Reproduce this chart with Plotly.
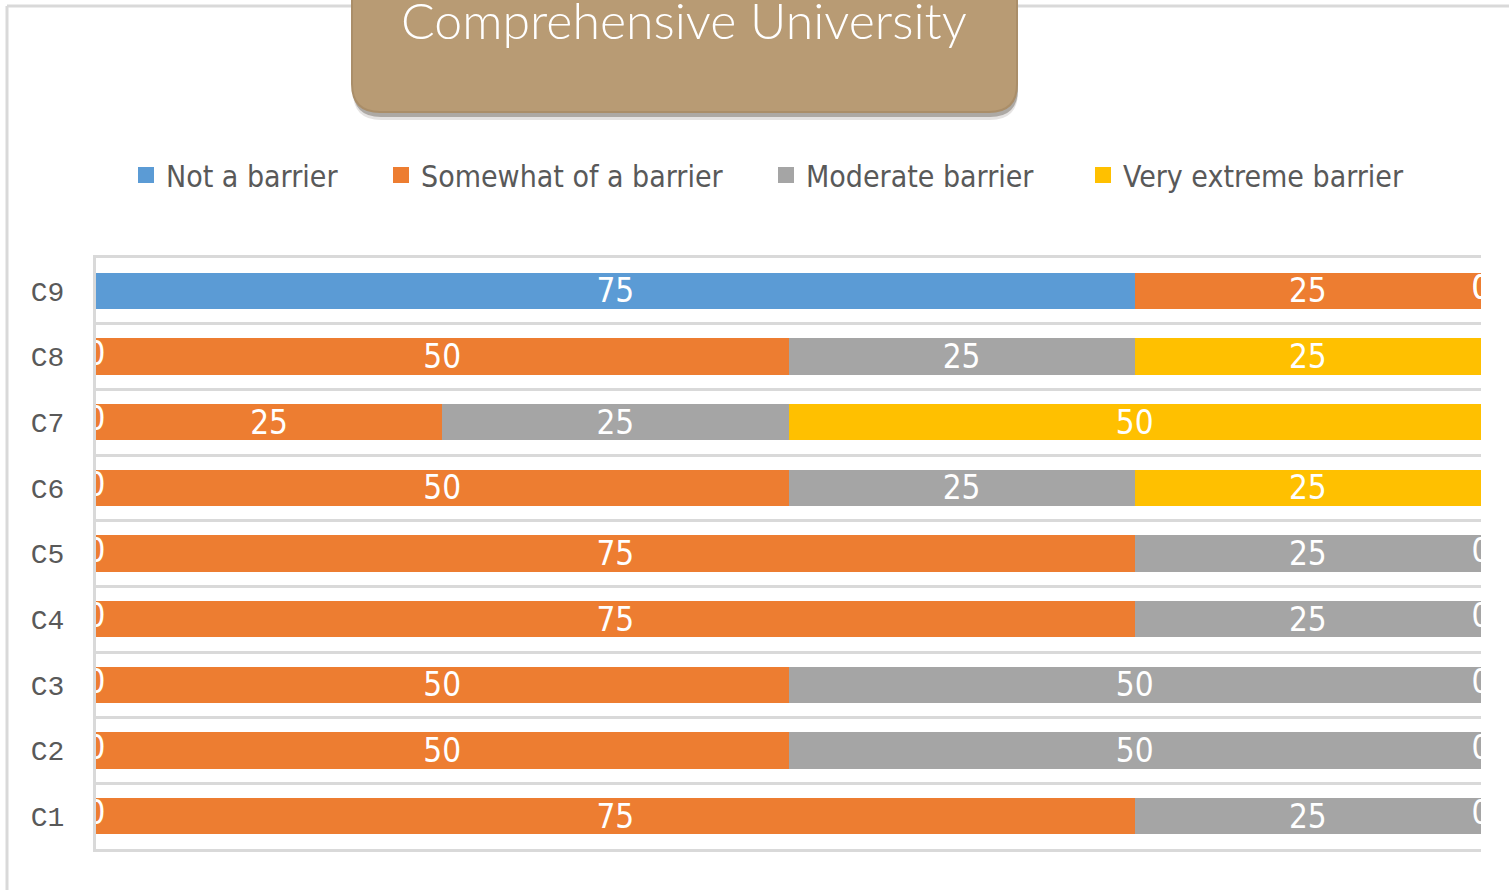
import plotly.graph_objects as go

categories = ["C1", "C2", "C3", "C4", "C5", "C6", "C7", "C8", "C9"]
series_names = ["Not a barrier", "Somewhat of a barrier", "Moderate barrier", "Very extreme barrier"]
not_a_barrier = [0, 0, 0, 0, 0, 0, 0, 0, 75]
somewhat_barrier = [75, 50, 50, 75, 75, 50, 25, 50, 25]
moderate_barrier = [25, 50, 50, 25, 25, 25, 25, 25, 0]
very_extreme_barrier = [0, 0, 0, 0, 0, 25, 50, 25, 0]
colors = ["#5B9BD5", "#ED7D31", "#A5A5A5", "#FFC000"]
title_text = "Comprehensive University"

W, H = 1509, 890
L, R, T, B = 96, 1481, 258, 849


def px(x):
    return (x - L) / (R - L)


def py(y):
    return (B - y) / (B - T)


NARROW = "Liberation Sans Narrow, DejaVu Sans Condensed, Arial Narrow, sans-serif"
legend_ids = ["legend", "legend2", "legend3", "legend4"]
legend_x = [126, 381, 766, 1083]

fig = go.Figure()
all_series = [not_a_barrier, somewhat_barrier, moderate_barrier, very_extreme_barrier]
for name, vals, col, lid in zip(series_names, all_series, colors, legend_ids):
    fig.add_trace(go.Bar(
        y=categories, x=vals, name=name, orientation="h",
        marker=dict(color=col, line=dict(width=0)),
        text=[str(v) if v else "" for v in vals],
        textposition="inside", insidetextanchor="middle", textangle=0,
        constraintext="none",
        insidetextfont=dict(color="white", size=33, family=NARROW),
        legendgroup=name, showlegend=False,
        hoverinfo="x+y+name",
    ))
    # legend entry with a larger square swatch
    fig.add_trace(go.Scatter(
        x=[None], y=[None], mode="markers", name=name, legend=lid,
        marker=dict(symbol="square", size=17, color=col),
        legendgroup=name, showlegend=True, hoverinfo="skip",
    ))

# zero-valued segment labels (clipped at plot edges as in the original)
zx, zy = [], []
for i, c in enumerate(categories):
    cum = 0
    for vals in all_series:
        v = vals[i]
        if v == 0:
            zx.append(cum)
            zy.append(c)
        cum += v
fig.add_trace(go.Scatter(
    x=zx, y=zy, mode="text", text=["0"] * len(zx), cliponaxis=True,
    textfont=dict(color="white", size=33, family=NARROW),
    showlegend=False, hoverinfo="skip",
))

# decorative title box
x0, x1, ytop, ybot, r = 352, 1017, -30, 112, 28


def box_path(dx=0, dy=0):
    a, b = x0 + dx, x1 + dx
    t, bt = ytop + dy, ybot + dy
    return (
        f"M {px(a)},{py(t)} L {px(b)},{py(t)} L {px(b)},{py(bt - r)} "
        f"Q {px(b)},{py(bt)} {px(b - r)},{py(bt)} L {px(a + r)},{py(bt)} "
        f"Q {px(a)},{py(bt)} {px(a)},{py(bt - r)} Z"
    )


shapes = [
    # outer chart border
    dict(type="line", xref="paper", yref="paper", x0=px(7), x1=px(1515), y0=py(6), y1=py(6),
         line=dict(color="#D9D9D9", width=3), layer="below"),
    dict(type="line", xref="paper", yref="paper", x0=px(7), x1=px(7), y0=py(6), y1=py(900),
         line=dict(color="#D9D9D9", width=3), layer="below"),
    # soft shadow
    dict(type="path", xref="paper", yref="paper", path=box_path(1, 8),
         fillcolor="rgba(80,70,60,0.15)", line=dict(width=0)),
    dict(type="path", xref="paper", yref="paper", path=box_path(1, 5),
         fillcolor="rgba(70,60,50,0.35)", line=dict(width=0)),
    # box
    dict(type="path", xref="paper", yref="paper", path=box_path(),
         fillcolor="#B89B74", line=dict(color="#AA8E69", width=2)),
]

legends = {}
for lid, lx in zip(legend_ids, legend_x):
    legends[lid] = dict(
        orientation="h", x=px(lx), y=py(175), xanchor="left", yanchor="middle",
        font=dict(color="#595959", size=30, family=NARROW),
        itemwidth=30, bgcolor="rgba(0,0,0,0)",
    )

fig.update_layout(
    width=W, height=H,
    margin=dict(l=L, r=W - R, t=T, b=H - B),
    paper_bgcolor="white", plot_bgcolor="white",
    barmode="stack", bargap=0.45,
    shapes=shapes,
    annotations=[dict(
        text=title_text, xref="paper", yref="paper", x=px(684), y=py(20),
        xanchor="center", yanchor="middle", showarrow=False,
        font=dict(color="white", size=50, family="Lato, Open Sans, sans-serif", weight=300),
    )],
    showlegend=True,
    xaxis=dict(range=[0, 100], showticklabels=False, showgrid=False, zeroline=False,
               showline=True, mirror=True, linecolor="#D9D9D9", linewidth=3, ticks=""),
    yaxis=dict(type="category", categoryorder="array", categoryarray=categories,
               tickson="boundaries", showgrid=True, gridcolor="#D9D9D9", gridwidth=3,
               showline=True, linecolor="#D9D9D9", linewidth=3, ticks="",
               ticklabelstandoff=23,
               tickfont=dict(color="#595959", size=28, family="Liberation Mono, DejaVu Sans Mono, monospace")),
    **legends,
)

fig.write_html("out.html", config={"displayModeBar": False},
               post_script="document.body.style.margin='0';")
